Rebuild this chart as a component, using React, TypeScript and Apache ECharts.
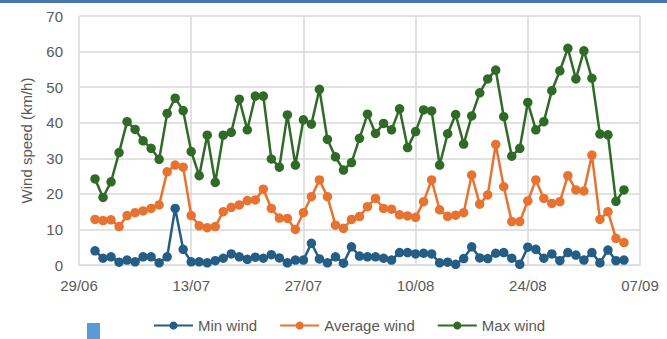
import React, { useEffect, useRef } from "react";
import * as echarts from "echarts";

// Axis range and tick labels (dd/mm)
const AXIS_START = "2025-06-29";
const AXIS_END = "2025-09-07";
const TICK_LABELS = ["29/06", "13/07", "27/07", "10/08", "24/08", "07/09"];
const FIRST_DAY = "2025-07-01"; // daily readings from 01/07 to 05/09

const minWind = [
  4.0, 1.9, 2.3, 0.8, 1.4, 0.9, 2.3, 2.3, 0.6, 2.3, 15.9, 4.4, 0.9, 0.9, 0.6, 1.2,
  1.9, 3.1, 2.3, 1.6, 2.2, 1.9, 2.9, 2.0, 0.6, 1.4, 1.4, 6.1, 1.7, 0.6, 2.3,
  0.5, 5.1, 2.5, 2.3, 2.3, 1.9, 1.4, 3.5, 3.5, 3.1, 3.3, 3.1, 0.6, 0.8, 0.2, 1.8,
  5.1, 2.0, 1.8, 3.3, 3.5, 1.9, 0.2, 5.0, 4.4, 1.9, 3.1, 1.2, 3.5, 2.8, 1.4,
  3.5, 0.6, 4.2, 1.2, 1.4,
];

const averageWind = [
  12.8, 12.5, 12.7, 10.8, 13.9, 14.7, 15.2, 15.9, 16.9, 26.2, 28.1, 27.5, 13.9, 11.0, 10.5, 10.8,
  15.0, 16.2, 16.9, 18.1, 18.3, 21.3, 15.9, 13.2, 13.1, 10.0, 14.7, 19.2, 23.9, 19.2, 11.2,
  10.3, 12.8, 13.6, 16.4, 18.7, 15.9, 15.7, 14.1, 13.8, 13.4, 17.8, 23.9, 15.5, 13.7, 14.0, 14.7,
  25.3, 17.1, 19.7, 33.9, 22.0, 12.2, 12.2, 18.0, 23.9, 18.7, 17.3, 17.8, 25.1, 21.1, 20.8,
  30.9, 12.8, 15.0, 7.5, 6.3,
];

const maxWind = [
  24.2, 19.0, 23.4, 31.6, 40.3, 38.1, 34.9, 32.8, 29.7, 42.6, 46.9, 43.4, 31.9, 25.1, 36.5, 23.2,
  36.5, 37.3, 46.6, 38.0, 47.5, 47.5, 29.8, 27.5, 42.2, 28.1, 40.8, 39.6, 49.4, 35.3, 30.4,
  26.7, 28.8, 35.6, 42.4, 37.0, 39.8, 38.0, 43.9, 33.0, 37.5, 43.6, 43.3, 28.1, 36.9, 42.3, 34.0,
  41.9, 48.4, 52.3, 54.8, 41.7, 30.6, 32.8, 45.7, 38.0, 40.3, 49.0, 54.6, 60.9, 52.3, 60.2,
  52.5, 36.8, 36.6, 17.9, 21.1,
];

const DAY_MS = 86400000;
const toUTC = (s: string) => {
  const [y, m, d] = s.split("-").map(Number);
  return Date.UTC(y, m - 1, d);
};
const axisStart = toUTC(AXIS_START);
const axisEndDay = (toUTC(AXIS_END) - axisStart) / DAY_MS;
const firstOffset = (toUTC(FIRST_DAY) - axisStart) / DAY_MS;
const tickInterval = axisEndDay / (TICK_LABELS.length - 1);

const toPoints = (vals: number[]) => vals.map((v, i) => [firstOffset + i, v]);

const COLORS = { min: "#245d86", avg: "#e8722f", max: "#2f6b26" };
const FONT = "'Liberation Sans', Arial, sans-serif";
const TEXT = "#595959";
const GRID = "#d9d9d9";

export default function App() {
  const ref = useRef<HTMLDivElement>(null);
  useEffect(() => {
    if (!ref.current) return;
    const chart = echarts.init(ref.current, null, { renderer: "svg" });
    const mkSeries = (name: string, data: number[], color: string) => ({
      name,
      type: "line",
      data: toPoints(data),
      symbol: "circle",
      symbolSize: 9.5,
      showSymbol: true,
      lineStyle: { width: 2.5, color },
      itemStyle: { color },
    });
    chart.setOption({
      animation: false,
      textStyle: { fontFamily: FONT },
      grid: { left: 79, right: 27, top: 16, bottom: 74, containLabel: false },
      xAxis: {
        type: "value",
        min: 0,
        max: axisEndDay,
        interval: tickInterval,
        axisLine: { show: true, lineStyle: { color: GRID, width: 1 } },
        axisTick: { show: false },
        splitLine: { show: true, lineStyle: { color: GRID, width: 1.5 } },
        axisLabel: {
          color: TEXT,
          fontSize: 15,
          fontFamily: FONT,
          margin: 13,
          formatter: (v: number) => TICK_LABELS[Math.round(v / tickInterval)] ?? "",
        },
      },
      yAxis: {
        type: "value",
        min: 0,
        max: 70,
        interval: 10,
        name: "Wind speed (km/h)",
        nameLocation: "middle",
        nameGap: 45,
        nameTextStyle: { color: TEXT, fontSize: 15, fontFamily: FONT },
        axisLine: { show: false },
        axisTick: { show: false },
        splitLine: { show: true, lineStyle: { color: GRID, width: 1.5 } },
        axisLabel: { color: TEXT, fontSize: 15, fontFamily: FONT, margin: 16 },
      },
      legend: {
        left: 148,
        top: 313,
        itemWidth: 39,
        itemHeight: 10,
        itemGap: 22,
        textStyle: { color: TEXT, fontSize: 15, fontFamily: FONT },
        data: ["Min wind", "Average wind", "Max wind"],
      },
      graphic: [
        { type: "rect", left: 0, top: 0, shape: { width: 667, height: 3 }, style: { fill: "#4a76b6" } },
        { type: "rect", left: 87, top: 323, shape: { width: 13, height: 16 }, style: { fill: "#5b9bd5" } },
      ],
      series: [
        mkSeries("Min wind", minWind, COLORS.min),
        mkSeries("Average wind", averageWind, COLORS.avg),
        mkSeries("Max wind", maxWind, COLORS.max),
      ],
    });
    return () => chart.dispose();
  }, []);
  return (
    <div
      ref={ref}
      style={{ position: "fixed", left: 0, top: 0, width: 667, height: 339, background: "#fff" }}
    />
  );
}
